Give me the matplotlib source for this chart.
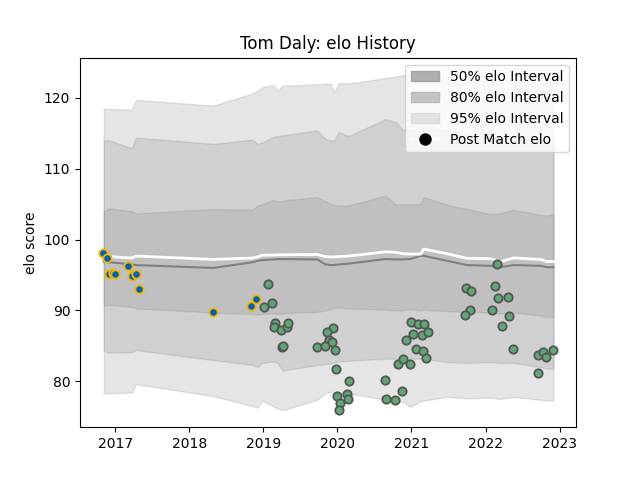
import pandas as pd
import matplotlib
matplotlib.use('Agg')
import matplotlib.pyplot as plt
import matplotlib.dates as mdates
from matplotlib.patches import Patch
from matplotlib.lines import Line2D

# -----------------------------
# Rating band over time (vertices)
# -----------------------------
band_dates = ['2016-11-06', '2016-12-03', '2017-03-24', '2017-04-14', '2018-05-01',
              '2018-11-09', '2018-12-04', '2018-12-28', '2019-02-21', '2019-03-12',
              '2019-04-06', '2019-09-24', '2019-11-04', '2019-11-29', '2019-12-18',
              '2020-01-09', '2020-02-25', '2020-08-26', '2020-10-15', '2020-11-18',
              '2020-12-27', '2021-02-15', '2021-03-03', '2021-06-26', '2021-10-02',
              '2022-01-25', '2022-03-15', '2022-05-19', '2022-09-28', '2022-10-31',
              '2022-12-02']

upper_95 = [118.45, 118.45, 118.3, 119.7, 118.9, 120.6, 121.0, 121.5, 121.8, 121.0,
            121.7, 121.9, 122.0, 122.0, 120.8, 122.1, 122.0, 122.8, 123.0, 123.2,
            123.2, 123.0, 123.3, 123.0, 122.8, 122.5, 122.3, 122.6, 122.2, 122.0, 122.0]
lower_95 = [78.3, 78.3, 78.4, 79.6, 77.9, 76.5, 76.3, 77.3, 76.4, 76.2,
            75.9, 77.4, 78.3, 78.5, 78.4, 78.3, 78.3, 77.4, 77.2, 77.1,
            76.4, 77.2, 77.3, 77.8, 77.6, 77.7, 77.5, 77.8, 77.4, 77.3, 77.3]
upper_80 = [114.0, 114.0, 112.9, 114.4, 113.5, 114.1, 113.5, 113.7, 114.5, 114.6,
            114.7, 115.4, 114.2, 114.0, 114.0, 115.2, 114.6, 117.0, 116.6, 115.5,
            115.5, 115.6, 115.8, 115.4, 115.0, 114.5, 114.3, 114.4, 114.0, 113.8, 113.8]
lower_80 = [84.3, 84.05, 84.1, 84.4, 83.0, 82.3, 82.0, 82.6, 82.8, 82.6,
            81.5, 82.3, 82.4, 82.5, 82.7, 82.8, 82.9, 83.2, 83.2, 82.9,
            83.2, 83.2, 83.2, 82.7, 82.6, 82.7, 82.6, 82.6, 82.0, 81.8, 81.8]
upper_50 = [104.0, 104.4, 104.0, 103.7, 104.3, 104.2, 104.8, 105.0, 105.6, 105.4,
            105.5, 106.0, 105.4, 105.1, 104.9, 104.8, 104.8, 106.2, 105.0, 105.0,
            105.0, 105.0, 106.0, 104.9, 104.3, 103.6, 103.7, 104.2, 103.5, 103.4, 103.6]
lower_50 = [90.7, 90.8, 90.5, 90.3, 89.7, 89.5, 89.4, 89.5, 89.6, 89.5,
            89.6, 89.8, 90.0, 90.2, 90.4, 90.4, 90.3, 90.1, 90.0, 90.0,
            90.2, 90.0, 90.1, 89.9, 89.8, 89.7, 89.6, 89.7, 89.3, 89.1, 89.1]
median_elo = [96.87, 96.8, 96.5, 96.4, 96.0, 96.8, 97.0, 97.1, 97.2, 97.25,
              97.25, 97.2, 96.5, 96.4, 96.4, 96.5, 96.6, 97.25, 97.2, 97.2,
              97.25, 97.7, 97.7, 97.0, 96.4, 96.3, 96.1, 96.4, 96.3, 96.1, 96.1]
mean_elo = [97.7, 97.6, 97.4, 97.67, 97.2, 97.4, 97.53, 97.8, 97.8, 97.85,
            97.85, 97.9, 97.6, 97.55, 97.55, 97.6, 97.67, 98.27, 98.2, 98.0,
            97.95, 97.95, 98.66, 98.0, 97.35, 97.3, 96.9, 97.4, 97.2, 96.9, 96.9]

# -----------------------------
# Post match elo points
# -----------------------------
early_dates = ['2016-10-31', '2016-11-22', '2016-12-03', '2016-12-20', '2017-01-01',
               '2017-03-04', '2017-03-24', '2017-04-14', '2017-04-27', '2018-04-29',
               '2018-11-01', '2018-11-29']
early_elo = [98.13, 97.34, 95.1, 95.35, 95.08, 96.3, 94.8, 95.1, 93.05, 89.75, 90.6, 91.55]

later_dates = ['2019-01-24', '2019-01-05', '2019-02-15', '2019-02-28', '2019-02-21',
               '2019-03-28', '2019-04-27', '2019-05-03', '2019-04-02', '2019-04-09',
               '2019-12-12', '2019-11-12', '2019-11-20', '2019-12-07', '2019-09-24',
               '2019-11-01', '2019-12-20', '2019-12-25', '2020-02-28', '2020-01-01',
               '2020-02-16', '2020-02-22', '2020-01-17', '2020-01-11', '2020-08-23',
               '2020-08-30', '2020-10-10', '2020-11-13', '2020-10-26', '2020-11-22',
               '2020-12-27', '2020-12-04', '2021-01-08', '2021-02-20', '2021-03-22',
               '2020-12-31', '2021-02-04', '2021-03-05', '2021-01-22', '2021-02-27',
               '2021-03-13', '2022-02-27', '2021-09-28', '2021-10-22', '2022-02-19',
               '2022-03-04', '2022-04-22', '2021-10-15', '2021-09-24', '2022-02-02',
               '2022-04-28', '2022-03-23', '2022-05-19', '2022-09-19', '2022-10-11',
               '2022-10-27', '2022-12-02', '2022-09-15']
later_elo = [93.7, 90.46, 91.1, 88.3, 87.7, 87.3, 87.7, 88.3, 84.9, 85.0,
             87.5, 86.9, 85.8, 85.5, 84.8, 84.95, 84.4, 81.7, 80.0, 77.97,
             78.15, 77.55, 77.0, 75.9, 80.14, 77.5, 77.3, 78.6, 82.5, 83.1,
             82.5, 85.9, 86.7, 86.5, 86.97, 88.4, 88.05, 88.15, 84.56, 84.3,
             83.3, 96.5, 93.2, 92.8, 93.4, 91.8, 91.83, 90.13, 89.33, 90.13,
             89.23, 87.8, 84.6, 83.7, 84.1, 83.4, 84.4, 81.2]

bx = pd.to_datetime(band_dates)

fig, ax = plt.subplots()

# each interval is a grey fill with alpha, they stack on top of each other
ax.fill_between(bx, lower_95, upper_95, color='grey', alpha=0.2)
ax.fill_between(bx, lower_80, upper_80, color='grey', alpha=0.2)
ax.fill_between(bx, lower_50, upper_50, color='grey', alpha=0.2)

ax.plot(bx, median_elo, color='grey', linewidth=1.5)
ax.plot(bx, mean_elo, color='white', linewidth=2)

ax.scatter(pd.to_datetime(early_dates), early_elo, s=36, color='#0461b1',
           edgecolors='#f2b705', linewidths=1.3, zorder=3)
ax.scatter(pd.to_datetime(later_dates), later_elo, s=36, color='#5fa874',
           edgecolors='#555555', linewidths=1.3, zorder=3)

ax.xaxis.set_major_locator(mdates.YearLocator())
ax.xaxis.set_major_formatter(mdates.DateFormatter('%Y'))

handles = [
    Patch(facecolor='#a8a8a8', edgecolor='#a0a0a0', alpha=0.9, label='50% elo Interval'),
    Patch(facecolor='#bebebe', edgecolor='#b8b8b8', alpha=0.9, label='80% elo Interval'),
    Patch(facecolor='#e0e0e0', edgecolor='#dadada', alpha=0.9, label='95% elo Interval'),
    Line2D([0], [0], marker='o', color='w', markerfacecolor='black', markersize=10,
           label='Post Match elo'),
]
ax.legend(handles=handles, loc='upper right')

ax.set_ylabel('elo score')
ax.set_title('Tom Daly: elo History')

plt.savefig('out.png')
